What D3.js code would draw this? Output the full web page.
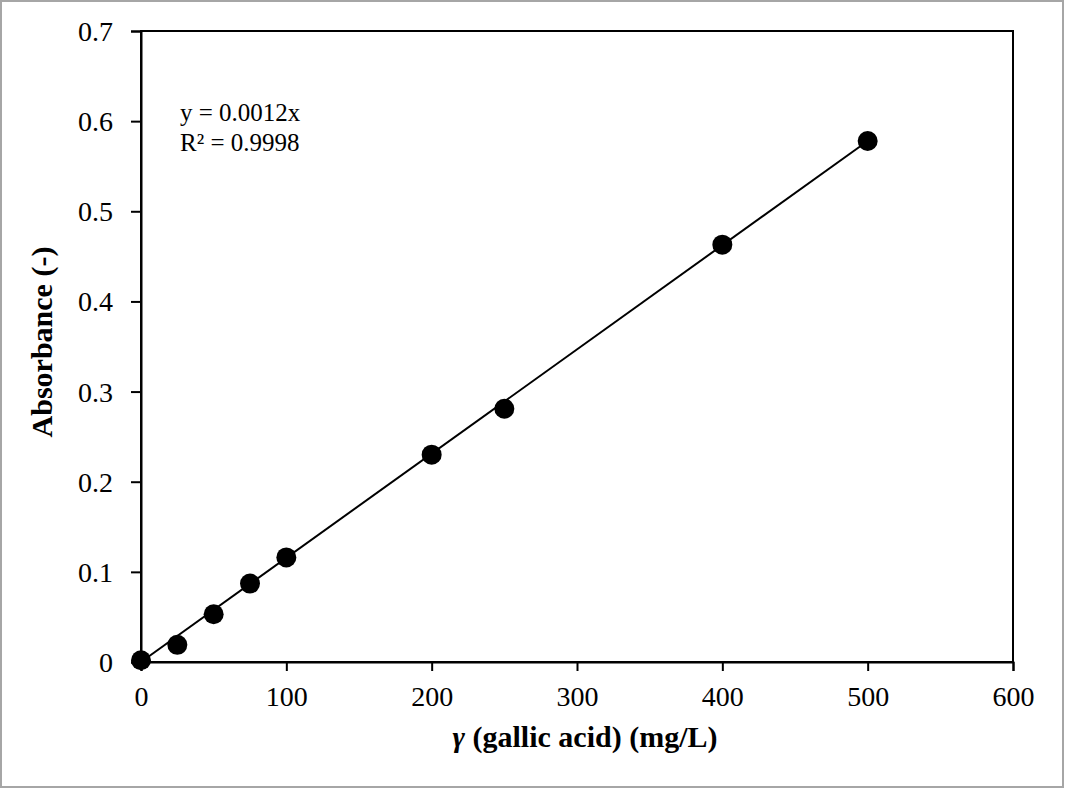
<!DOCTYPE html>
<html><head><meta charset="utf-8">
<script src="https://cdn.jsdelivr.net/npm/d3@7"></script>
<style>
html,body{margin:0;padding:0;background:#fff;}
svg{display:block;font-family:"Liberation Serif","Times New Roman",serif;}
</style></head>
<body>
<svg id="chart" width="1065" height="789"></svg>
<script>
const concentrations = [0, 25, 50, 75, 100, 200, 250, 400, 500];
const absorbances = [0.002, 0.019, 0.053, 0.087, 0.116, 0.230, 0.281, 0.463, 0.578];
const xTicks = [0, 100, 200, 300, 400, 500, 600];
const yTicks = [0, 0.1, 0.2, 0.3, 0.4, 0.5, 0.6, 0.7];
const trendSlope = 0.001156;
const trendRange = [0, 500];
const equationLines = ["y = 0.0012x", "R² = 0.9998"];

const svg = d3.select("#chart");
const W = 1065, H = 789;
const m = {left: 141, right: 1013, top: 31, bottom: 662};
const FONT = "'Liberation Serif','Times New Roman',serif";

svg.append("rect").attr("x", 1).attr("y", 1).attr("width", W - 3).attr("height", H - 3)
  .attr("fill", "#fff").attr("stroke", "#a6a6a6").attr("stroke-width", 2);

const x = d3.scaleLinear().domain([0, 600]).range([m.left, m.right]);
const y = d3.scaleLinear().domain([0, 0.7]).range([m.bottom, m.top]);

// plot frame
svg.append("rect").attr("x", m.left).attr("y", m.top)
  .attr("width", m.right - m.left).attr("height", m.bottom - m.top)
  .attr("fill", "none").attr("stroke", "#000").attr("stroke-width", 2);

const xAxis = svg.append("g").attr("transform", `translate(0,${m.bottom})`)
  .call(d3.axisBottom(x).tickValues(xTicks).tickSize(9).tickFormat(d3.format("d")));
const yAxis = svg.append("g").attr("transform", `translate(${m.left},0)`)
  .call(d3.axisLeft(y).tickValues(yTicks).tickSize(10).tickFormat(d => d === 0 ? "0" : d3.format(".1f")(d)));
[xAxis, yAxis].forEach(g => {
  g.select(".domain").attr("stroke", "#000").attr("stroke-width", 2);
  g.selectAll(".tick line").attr("stroke", "#000").attr("stroke-width", 2);
  g.selectAll(".tick text").attr("fill", "#000").style("font-size", "28px")
    .style("font-family", FONT);
});
xAxis.selectAll(".tick text").attr("y", 44).attr("dy", 0);
yAxis.selectAll(".tick text").attr("x", -28).attr("dy", "0.34em");

// trendline
svg.append("line")
  .attr("x1", x(trendRange[0])).attr("y1", y(trendSlope * trendRange[0]))
  .attr("x2", x(trendRange[1])).attr("y2", y(trendSlope * trendRange[1]))
  .attr("stroke", "#000").attr("stroke-width", 2);

// points
svg.append("g").selectAll("circle").data(concentrations).join("circle")
  .attr("cx", d => x(d)).attr("cy", (d, i) => y(absorbances[i])).attr("r", 10)
  .attr("fill", "#000");

// equation
svg.append("text").style("font-size", "25px").attr("fill", "#000")
  .selectAll("tspan").data(equationLines).join("tspan")
  .attr("x", 180).attr("y", (d, i) => 121 + i * 30).text(d => d);

// axis titles
const xt = svg.append("text").attr("x", 585).attr("y", 747).attr("text-anchor", "middle")
  .style("font-size", "30px").style("font-weight", "bold").attr("fill", "#000");
xt.append("tspan").style("font-style", "italic").text("γ");
xt.append("tspan").text(" (gallic acid) (mg/L)");

svg.append("text").attr("transform", "translate(52,342) rotate(-90)").attr("text-anchor", "middle")
  .style("font-size", "30px").style("font-weight", "bold").attr("fill", "#000")
  .text("Absorbance (-)");
</script>
</body></html>
